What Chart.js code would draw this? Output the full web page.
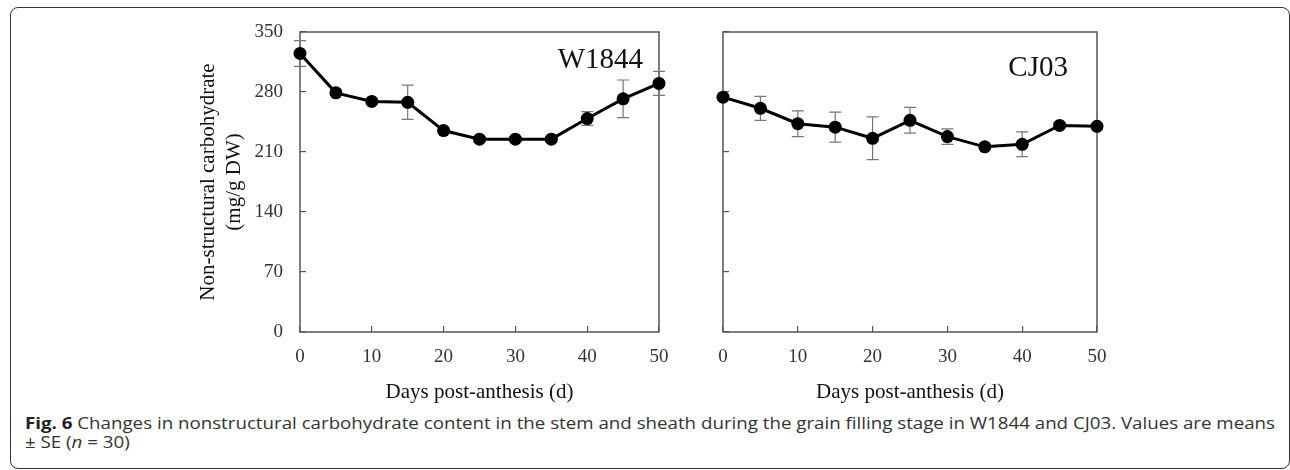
<!DOCTYPE html>
<html>
<head>
<meta charset="utf-8">
<script src="https://cdn.jsdelivr.net/npm/chart.js@4.4.1/dist/chart.umd.min.js"></script>
<style>
  html, body { margin: 0; padding: 0; background: #fff; }
  body { width: 1290px; height: 470px; position: relative; overflow: hidden; }
  .frame { position: absolute; left: 10px; top: 7px; width: 1280px; height: 462px; border: 1.5px solid #333; border-radius: 8px; box-sizing: border-box; }
  .panel { position: absolute; top: 0; height: 410px; }
  #leftWrap { left: 190px; width: 480px; }
  #rightWrap { left: 700px; width: 410px; }
  .caption { position: absolute; left: 25px; top: 414px; font-family: "Open Sans", sans-serif; font-size: 16px; line-height: 19px; color: #333; white-space: nowrap; transform-origin: 0 0; }
  .caption b { color: #222; }
</style>
</head>
<body>
<div class="frame"></div>
<div class="panel" id="leftWrap"><canvas id="leftChart"></canvas></div>
<div class="panel" id="rightWrap"><canvas id="rightChart"></canvas></div>
<div class="caption" id="cap">
  <div id="cap1"><b>Fig. 6</b> Changes in nonstructural carbohydrate content in the stem and sheath during the grain filling stage in W1844 and CJ03. Values are means</div>
  <div>± SE (<i>n</i> = 30)</div>
</div>
<script>
// days after anthesis
const days = [0, 5, 10, 15, 20, 25, 30, 35, 40, 45, 50];

// NSC content (mg/g DW) and SE
const w1844 = [325, 279, 269, 268, 235, 225, 225, 225, 249, 272, 290];
const w1844Err = [15, 3, 3, 20, 3, 3, 3, 3, 8, 22, 14];
const cj03 = [274, 261, 243, 239, 226, 247, 228, 216, 219, 241, 240];
const cj03Err = [3, 14, 15, 17.5, 25, 15, 9, 3, 14.5, 3, 3];

const yTicks = [0, 70, 140, 210, 280, 350];
const xTicks = [0, 10, 20, 30, 40, 50];

const serif = '"Liberation Serif", "Times New Roman", serif';

// frame round the plot + error bars (under the markers)
const framePlugin = {
    id: 'frameAndErrors',
    beforeDatasetsDraw(chart) {
        const { ctx, chartArea: a, scales } = chart;
        ctx.save();
        ctx.strokeStyle = '#555';
        ctx.lineWidth = 1.5;
        ctx.strokeRect(a.left, a.top, a.right - a.left, a.bottom - a.top);

        const errs = chart.options.plugins.frameAndErrors.errors;
        const vals = chart.data.datasets[0].data;
        ctx.strokeStyle = '#777';
        ctx.lineWidth = 1.2;
        vals.forEach((p, i) => {
            const x = scales.x.getPixelForValue(p.x);
            const yHi = scales.y.getPixelForValue(p.y + errs[i]);
            const yLo = scales.y.getPixelForValue(p.y - errs[i]);
            ctx.beginPath();
            ctx.moveTo(x, yHi); ctx.lineTo(x, yLo);
            ctx.moveTo(x - 6, yHi); ctx.lineTo(x + 6, yHi);
            ctx.moveTo(x - 6, yLo); ctx.lineTo(x + 6, yLo);
            ctx.stroke();
        });
        ctx.restore();
    },
    afterDatasetsDraw(chart) {
        const o = chart.options.plugins.frameAndErrors;
        const { ctx, chartArea: a } = chart;
        ctx.save();
        ctx.font = '29px ' + serif;
        ctx.fillStyle = '#111';
        ctx.textAlign = 'right';
        ctx.textBaseline = 'alphabetic';
        ctx.fillText(o.label, a.right - o.dx, a.top + o.dy);
        ctx.restore();
    }
};

function makeChart(id, values, errs, opts) {
    return new Chart(document.getElementById(id), {
        type: 'line',
        data: {
            datasets: [{
                data: days.map((d, i) => ({ x: d, y: values[i] })),
                borderColor: '#000',
                borderWidth: 3,
                backgroundColor: '#000',
                pointRadius: 6.5,
                pointBorderWidth: 0,
                pointHoverRadius: 6.5,
                clip: false,
                tension: 0
            }]
        },
        options: {
            responsive: true,
            maintainAspectRatio: false,
            animation: false,
            events: [],
            layout: { padding: { top: 32, right: opts.padRight, bottom: 0, left: 0 } },
            plugins: {
                legend: { display: false },
                tooltip: { enabled: false },
                frameAndErrors: { errors: errs, label: opts.label, dx: opts.dx, dy: opts.dy }
            },
            scales: {
                x: {
                    type: 'linear',
                    min: 0, max: 50,
                    afterBuildTicks: s => { s.ticks = xTicks.map(v => ({ value: v })); },
                    afterFit: s => { s.height = 78; s.paddingLeft = 0; s.paddingRight = 0; },
                    border: { display: false },
                    grid: { drawOnChartArea: false, tickLength: -6, color: '#555', lineWidth: 1.2 },
                    ticks: { padding: 20, color: '#333', font: { family: serif, size: 19 } },
                    title: {
                        display: true,
                        text: 'Days post-anthesis (d)',
                        color: '#111',
                        font: { family: serif, size: 21 },
                        padding: { top: 0, bottom: 5 }
                    }
                },
                y: {
                    min: 0, max: 350,
                    afterBuildTicks: s => { s.ticks = yTicks.map(v => ({ value: v })); },
                    afterFit: s => { s.width = opts.yWidth; s.paddingTop = 0; s.paddingBottom = 0; },
                    border: { display: false },
                    grid: { drawOnChartArea: false, tickLength: -6, color: '#555', lineWidth: 1.2 },
                    ticks: { display: opts.showY, padding: 23, color: '#333', font: { family: serif, size: 19 } },
                    title: {
                        display: opts.showY,
                        text: ['Non-structural carbohydrate', '(mg/g DW)'],
                        color: '#111',
                        font: { family: serif, size: 21, lineHeight: 1.24 },
                        padding: { top: 5, bottom: 0 }
                    }
                }
            }
        },
        plugins: [framePlugin]
    });
}

makeChart('leftChart', w1844, w1844Err, { label: 'W1844', dx: 16, dy: 36, showY: true, yWidth: 110, padRight: 11 });
makeChart('rightChart', cj03, cj03Err, { label: 'CJ03', dx: 29, dy: 44, showY: false, yWidth: 23, padRight: 13 });

// squeeze the caption to the width of the original line
const cap1 = document.getElementById('cap1');
const w = cap1.getBoundingClientRect().width;
document.getElementById('cap').style.transform = 'scaleX(' + (1250 / w) + ')';
</script>
</body>
</html>
